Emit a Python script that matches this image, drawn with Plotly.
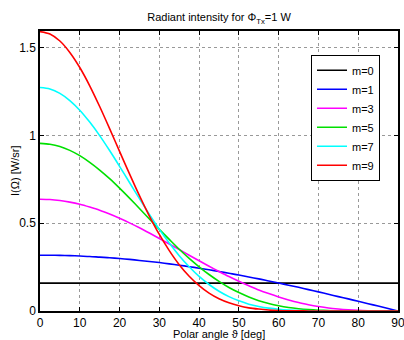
import plotly.graph_objects as go

theta = [0, 2.5, 5, 7.5, 10, 12.5, 15, 17.5, 20, 22.5, 25, 27.5, 30, 32.5, 35, 37.5, 40, 42.5,
         45, 47.5, 50, 52.5, 55, 57.5, 60, 62.5, 65, 67.5, 70, 72.5, 75, 77.5, 80, 82.5, 85, 87.5, 90]

m0 = [0.159] * 37
m1 = [0.318, 0.318, 0.317, 0.3156, 0.313, 0.3108, 0.307, 0.3036, 0.299, 0.2941, 0.288, 0.2823,
      0.276, 0.2684, 0.261, 0.2525, 0.244, 0.2347, 0.225, 0.215, 0.205, 0.1938, 0.183, 0.171,
      0.159, 0.147, 0.135, 0.1218, 0.109, 0.0957, 0.082, 0.0689, 0.055, 0.0415, 0.028, 0.0139, 0.0]
m3 = [0.637, 0.635, 0.629, 0.620, 0.608, 0.592, 0.574, 0.552, 0.528, 0.502, 0.474, 0.444,
      0.413, 0.382, 0.350, 0.318, 0.286, 0.255, 0.225, 0.196, 0.169, 0.144, 0.120, 0.099,
      0.080, 0.063, 0.048, 0.036, 0.0255, 0.017, 0.011, 0.0065, 0.0033, 0.0014, 0.0004, 0.0001, 0.0]
m5 = [0.955, 0.950, 0.937, 0.915, 0.885, 0.847, 0.803, 0.754, 0.700, 0.643, 0.584, 0.524,
      0.465, 0.408, 0.352, 0.300, 0.252, 0.208, 0.169, 0.134, 0.105, 0.080, 0.059, 0.043,
      0.030, 0.020, 0.013, 0.008, 0.0045, 0.0024, 0.0011, 0.0005, 0.0002, 0.0, 0.0, 0.0, 0.0]
m7 = [1.273, 1.265, 1.240, 1.199, 1.144, 1.076, 0.999, 0.914, 0.824, 0.732, 0.640, 0.550,
      0.465, 0.387, 0.315, 0.252, 0.197, 0.151, 0.1125, 0.082, 0.058, 0.039, 0.026, 0.0165,
      0.010, 0.0057, 0.003, 0.0015, 0.0007, 0.0003, 0.0001, 0.0, 0.0, 0.0, 0.0, 0.0, 0.0]
m9 = [1.5915, 1.578, 1.538, 1.473, 1.387, 1.283, 1.165, 1.039, 0.909, 0.781, 0.657, 0.541,
      0.436, 0.344, 0.264, 0.198, 0.145, 0.102, 0.070, 0.047, 0.030, 0.018, 0.011, 0.006,
      0.003, 0.0015, 0.0007, 0.0003, 0.0001, 0.0, 0.0, 0.0, 0.0, 0.0, 0.0, 0.0, 0.0]

x_ticks = [0, 10, 20, 30, 40, 50, 60, 70, 80, 90]
y_ticks = [0, 0.5, 1, 1.5]
y_tick_labels = ["0", "0.5", "1", "1.5"]

names = ["m=0", "m=1", "m=3", "m=5", "m=7", "m=9"]
series = [m0, m1, m3, m5, m7, m9]
colors = ["#000000", "#0000ff", "#ff00ff", "#00e000", "#00ffff", "#ff0000"]

fig = go.Figure()
for n, s, c in zip(names, series, colors):
    fig.add_trace(go.Scatter(x=theta[:len(s)], y=s, mode="lines", name=n,
                             line=dict(color=c, width=1.6, shape="spline", smoothing=0.8)))

font = "Liberation Sans, Arial, Helvetica, sans-serif"
axis_common = dict(showline=True, linecolor="black", linewidth=1.5, mirror="allticks",
                   ticks="inside", ticklen=4, tickcolor="black", showgrid=True,
                   gridcolor="#999999", griddash="dot", gridwidth=1, zeroline=False,
                   automargin=False, ticklabeloverflow="allow",
                   tickfont=dict(size=12, color="black", family=font))

fig.update_layout(
    width=404, height=340,
    margin=dict(l=40, r=6, t=31, b=29),
    paper_bgcolor="white", plot_bgcolor="white",
    font=dict(family=font, size=11, color="black"),
    title=dict(text="Radiant intensity for Φ<sub>Tx</sub>=1 W", x=0.5, xref="paper",
               xanchor="center", y=0.96, yanchor="top",
               font=dict(size=11, color="black", family=font)),
    xaxis=dict(range=[0, 90], tickvals=x_ticks, **axis_common),
    yaxis=dict(range=[0, 1.595], tickvals=y_ticks, ticktext=y_tick_labels, **axis_common),
    legend=dict(x=0.757, y=0.915, xanchor="left", yanchor="top",
                bgcolor="white", bordercolor="black", borderwidth=1,
                font=dict(size=11, family=font), itemwidth=30),
    showlegend=True,
    annotations=[
        dict(text="Polar angle ϑ [deg]", xref="paper", yref="paper", x=0.5, y=-0.081,
             xanchor="center", yanchor="middle", showarrow=False,
             font=dict(size=11, family=font, color="black")),
        dict(text="I(Ω) [W/sr]", xref="paper", yref="paper", x=-0.07, y=0.5,
             xanchor="center", yanchor="middle", showarrow=False, textangle=-90,
             font=dict(size=11, family=font, color="black")),
    ],
)

fig.write_html("out.html", config={"displayModeBar": False},
               post_script="document.body.style.margin='0';")
